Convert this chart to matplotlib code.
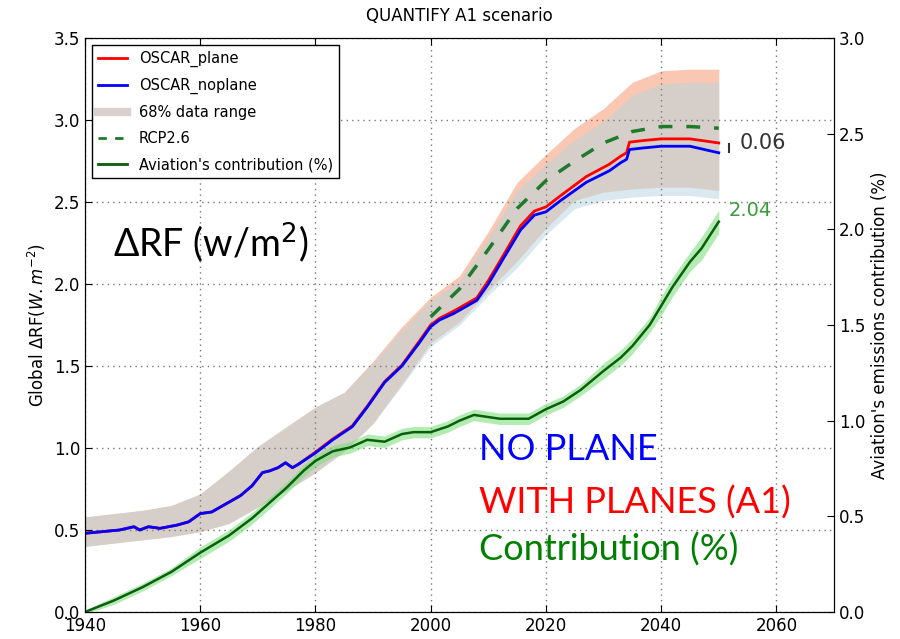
import matplotlib.pyplot as plt
from matplotlib.lines import Line2D

# OSCAR runs, global delta RF (W/m2)
years = [1940, 1943, 1946, 1948.5, 1949.5, 1951, 1953, 1956, 1958, 1960,
         1962, 1964.5, 1967, 1969, 1970.8, 1972, 1973.5, 1974.8, 1976, 1977,
         1980, 1983, 1986.4, 1989, 1992, 1995, 1998, 2000, 2001.5, 2004,
         2008, 2010, 2012.7, 2015.6, 2018, 2020, 2022.6, 2027, 2031, 2033,
         2034, 2034.5, 2037, 2040, 2045, 2050]
noplane = [0.48, 0.49, 0.50, 0.52, 0.50, 0.52, 0.51, 0.53, 0.55, 0.60,
           0.61, 0.66, 0.71, 0.77, 0.85, 0.86, 0.88, 0.91, 0.88, 0.90,
           0.97, 1.05, 1.13, 1.25, 1.40, 1.50, 1.64, 1.74, 1.78, 1.82,
           1.90, 2.00, 2.16, 2.33, 2.42, 2.44, 2.51, 2.62, 2.69, 2.74,
           2.76, 2.82, 2.83, 2.84, 2.84, 2.80]
plane = [0.48, 0.49, 0.50, 0.52, 0.50, 0.52, 0.51, 0.53, 0.55, 0.60,
         0.61, 0.66, 0.71, 0.77, 0.85, 0.86, 0.88, 0.91, 0.88, 0.90,
         0.975, 1.055, 1.135, 1.255, 1.405, 1.505, 1.65, 1.75, 1.79, 1.835,
         1.915, 2.02, 2.18, 2.355, 2.445, 2.47, 2.54, 2.655, 2.73, 2.78,
         2.80, 2.865, 2.875, 2.885, 2.885, 2.86]

# 68% ranges
band_years = [1940, 1945, 1950, 1955, 1960, 1965, 1970, 1975, 1980, 1985, 1990,
              1995, 2000, 2005, 2010, 2015, 2020, 2025, 2030, 2035, 2040, 2045, 2050]
plane_hi = [0.58, 0.60, 0.62, 0.65, 0.72, 0.86, 1.01, 1.13, 1.25, 1.34, 1.53,
            1.74, 1.92, 2.05, 2.32, 2.62, 2.79, 2.95, 3.07, 3.23, 3.30, 3.31, 3.31]
plane_lo = [0.40, 0.42, 0.44, 0.46, 0.49, 0.54, 0.64, 0.74, 0.85, 0.98, 1.15,
            1.39, 1.64, 1.77, 1.96, 2.14, 2.34, 2.51, 2.56, 2.58, 2.59, 2.59, 2.57]
noplane_hi = [0.58, 0.60, 0.62, 0.65, 0.72, 0.86, 1.01, 1.13, 1.25, 1.34, 1.52,
              1.72, 1.90, 2.02, 2.28, 2.57, 2.73, 2.88, 2.99, 3.15, 3.22, 3.23, 3.23]
noplane_lo = [0.40, 0.42, 0.44, 0.46, 0.49, 0.54, 0.64, 0.74, 0.85, 0.98, 1.15,
              1.38, 1.62, 1.75, 1.93, 2.10, 2.30, 2.46, 2.51, 2.53, 2.54, 2.54, 2.52]

rcp_years = [2000, 2005, 2010, 2015, 2020, 2025, 2030, 2035, 2040, 2045, 2050]
rcp26 = [1.80, 1.97, 2.21, 2.46, 2.63, 2.75, 2.86, 2.93, 2.96, 2.96, 2.95]

# aviation's contribution (%), right axis
c_years = [1940, 1945, 1950, 1955, 1960, 1965, 1969, 1972, 1975, 1978, 1980,
           1983, 1986, 1989, 1992, 1995, 1997, 2000, 2003, 2005, 2007.5, 2012,
           2017, 2020, 2023, 2026, 2030, 2033, 2035, 2038, 2040, 2042, 2045,
           2047, 2050]
contrib = [0.0, 0.06, 0.13, 0.21, 0.31, 0.40, 0.49, 0.57, 0.65, 0.74, 0.79,
           0.84, 0.86, 0.90, 0.89, 0.93, 0.94, 0.94, 0.97, 1.00, 1.03, 1.01,
           1.01, 1.06, 1.10, 1.16, 1.26, 1.33, 1.39, 1.50, 1.60, 1.70, 1.83,
           1.90, 2.04]
contrib_spread = [0.01, 0.02, 0.02, 0.02, 0.03, 0.03, 0.03, 0.03, 0.03, 0.03, 0.03,
                  0.03, 0.03, 0.03, 0.03, 0.03, 0.03, 0.03, 0.03, 0.03, 0.03, 0.03,
                  0.03, 0.03, 0.03, 0.03, 0.04, 0.04, 0.04, 0.04, 0.05, 0.05, 0.05,
                  0.06, 0.06]

fig = plt.figure(figsize=(9, 6.39), dpi=100)
ax = fig.add_axes([85 / 900, 27 / 639, 749 / 900, 574 / 639])
ax2 = ax.twinx()

ax.fill_between(band_years, plane_lo, plane_hi, color='#f8a27f', alpha=0.6, lw=0)
ax.fill_between(band_years, noplane_lo, noplane_hi, color='#b4d5e0', alpha=0.5, lw=0)
ax.plot(years, plane, color='red', lw=2)
ax.plot(years, noplane, color='blue', lw=2)
ax.plot(rcp_years, rcp26, color='#1f7a2a', lw=2.5, ls='--', dashes=(4, 4))

c_lo = [c - s for c, s in zip(contrib, contrib_spread)]
c_hi = [c + s for c, s in zip(contrib, contrib_spread)]
ax2.fill_between(c_years, c_lo, c_hi, color='#7fe07f', alpha=0.6, lw=0)
ax2.plot(c_years, contrib, color='#0b5e0b', lw=1.8)

ax.set_xlim(1940, 2070)
ax.set_ylim(0, 3.5)
ax2.set_ylim(0, 3.0)
ax.set_xticks(range(1940, 2061, 20))
ax.set_yticks([0, 0.5, 1, 1.5, 2, 2.5, 3, 3.5])
ax2.set_yticks([0, 0.5, 1, 1.5, 2, 2.5, 3])
ax.yaxis.set_major_formatter(plt.FormatStrFormatter('%.1f'))
ax2.yaxis.set_major_formatter(plt.FormatStrFormatter('%.1f'))
ax.grid(True, ls=(0, (1, 3)), color='#777777', lw=1)
ax.tick_params(direction='in', top=True, labelsize=12, length=5)
ax2.tick_params(direction='in', labelsize=12, length=5)

ax.set_title('QUANTIFY A1 scenario', fontsize=12, pad=12)
ax.set_ylabel(r'Global $\Delta$RF$(W.m^{-2})$', fontsize=12)
ax2.set_ylabel("Aviation's emissions contribution (%)", fontsize=12)

# difference marker and end values
ax.vlines(2051.8, noplane[-1], plane[-1], color='#333333', lw=1.5)
ax.text(2053.6, 2.86, '0.06', fontsize=15, color='#333333', va='center')
ax2.text(2051.7, 2.10, '2.04', fontsize=14, color='#3a9a3a', va='center')

big = dict(fontsize=26, family=['Lato', 'DejaVu Sans'], va='center')
ax.text(1944.9, 2.25, r'ΔRF (w/m$^2$)', color='black',
        fontsize=27, family=['Lato', 'DejaVu Sans'], va='center')
ax.text(2008.3, 0.99, 'NO PLANE', color='blue', **big)
ax.text(2008.3, 0.665, 'WITH PLANES (A1)', color='red', **big)
ax.text(2008.3, 0.38, 'Contribution (%)', color='green', **big)

handles = [Line2D([], [], color='red', lw=2),
           Line2D([], [], color='blue', lw=2),
           Line2D([], [], color='#d8d0ce', lw=6),
           Line2D([], [], color='#1f7a2a', lw=2, ls='--', dashes=(3, 3)),
           Line2D([], [], color='#0b5e0b', lw=2)]
labels = ['OSCAR_plane', 'OSCAR_noplane', '68% data range', 'RCP2.6',
          "Aviation's contribution (%)"]
leg = ax.legend(handles, labels, loc='upper left', fontsize=10.5, fancybox=False,
                labelspacing=0.75, framealpha=1, edgecolor='black',
                borderaxespad=0.5)
leg.get_frame().set_linewidth(1)

fig.savefig('out.png', dpi=100)
